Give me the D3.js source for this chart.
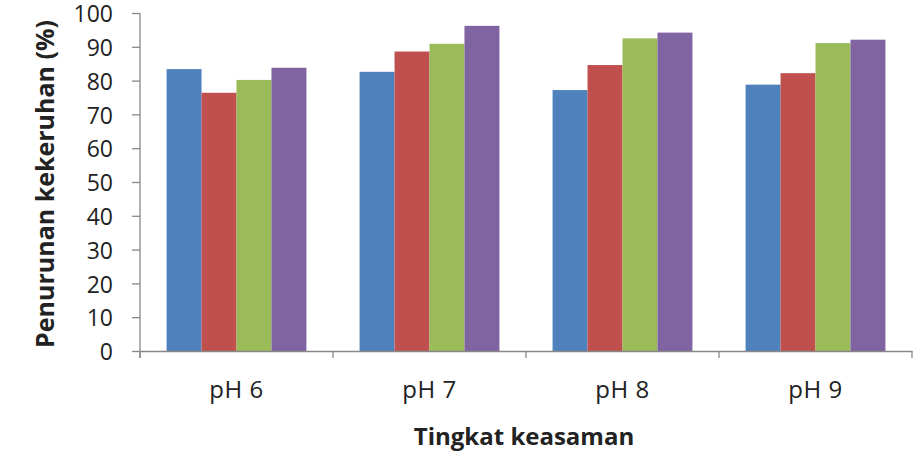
<!DOCTYPE html>
<html>
<head>
<meta charset="utf-8">
<script src="https://cdn.jsdelivr.net/npm/d3@7"></script>
<style>
  body { margin: 0; background: #fff; }
  text { font-family: "Open Sans", "Noto Sans", sans-serif; fill: #222; }
</style>
</head>
<body>
<div id="chart"></div>
<script>
var width = 921;
var height = 457;

// categories and series values
var categories = ["pH 6", "pH 7", "pH 8", "pH 9"];
var seriesNames = ["s1", "s2", "s3", "s4"];
var series1 = [83.4, 82.6, 77.2, 78.8];
var series2 = [76.4, 88.6, 84.6, 82.2];
var series3 = [80.2, 90.9, 92.5, 91.1];
var series4 = [83.8, 96.2, 94.2, 92.1];
var colors = ["#4F81BD", "#C0504D", "#9BBB59", "#8064A2"];
var yTicks = [0, 10, 20, 30, 40, 50, 60, 70, 80, 90, 100];

var allSeries = [series1, series2, series3, series4];

//plot area
var plotL = 140, plotR = 912, plotT = 13, plotB = 351;

var svg = d3.select("#chart").append("svg")
  .attr("width", width)
  .attr("height", height);

var x0 = d3.scaleBand().domain(categories).range([plotL, plotR]);
// bars take 140 of the 193px group, gap split on both sides
var x1 = d3.scaleBand().domain(seriesNames).range([0, x0.bandwidth()])
  .paddingInner(0).paddingOuter(0.76);
var y = d3.scaleLinear().domain([0, 100]).range([plotB, plotT]);

// bars
var groups = svg.selectAll(".grp").data(categories).enter()
  .append("g")
  .attr("class", "grp")
  .attr("transform", function(d) { return "translate(" + x0(d) + ",0)"; });

groups.each(function(cat, ci) {
  var g = d3.select(this);
  seriesNames.forEach(function(s, si) {
    var v = allSeries[si][ci];
    g.append("rect")
      .attr("x", x1(s))
      .attr("y", y(v))
      .attr("width", x1.bandwidth())
      .attr("height", y(0) - y(v))
      .attr("fill", colors[si]);
  });
});

// y axis
var yAxis = d3.axisLeft(y).tickValues(yTicks).tickSize(8).tickPadding(19);
var gy = svg.append("g").attr("transform", "translate(" + plotL + ",0)").call(yAxis);
gy.select(".domain").attr("stroke", "#888").attr("stroke-width", 1.3).attr("d", "M0," + plotT + "V" + (plotB + 7));
gy.selectAll(".tick line").attr("stroke", "#888").attr("stroke-width", 1.3);
gy.selectAll(".tick text").attr("font-size", "23px").attr("font-family", "Open Sans, sans-serif").attr("fill", "#222").attr("dy", "0.38em");

// x axis
var xAxis = d3.axisBottom(x0).tickSize(0).tickPadding(30);
var gx = svg.append("g").attr("transform", "translate(0," + plotB + ")").call(xAxis);
gx.select(".domain").attr("stroke", "#888").attr("stroke-width", 1.3);
gx.selectAll(".tick text").attr("font-size", "24px").attr("font-family", "Open Sans, sans-serif").attr("fill", "#222")
  .attr("letter-spacing", "0.5px");
// category boundary ticks
var bounds = categories.map(function(c) { return x0(c); }).concat([plotR]);
gx.selectAll(".bnd").data(bounds).enter().append("line")
  .attr("x1", function(d) { return d; }).attr("x2", function(d) { return d; })
  .attr("y1", 0).attr("y2", 7)
  .attr("stroke", "#888").attr("stroke-width", 1.3);

// axis titles
svg.append("text")
  .attr("x", (plotL + plotR) / 2 - 2)
  .attr("y", 445)
  .attr("text-anchor", "middle")
  .attr("font-size", "24px")
  .attr("font-weight", "bold")
  .text("Tingkat keasaman");

svg.append("text")
  .attr("transform", "translate(54,184)rotate(-90)")
  .attr("text-anchor", "middle")
  .attr("font-size", "25px")
  .attr("font-weight", "bold")
  .text("Penurunan kekeruhan (%)");
</script>
</body>
</html>
